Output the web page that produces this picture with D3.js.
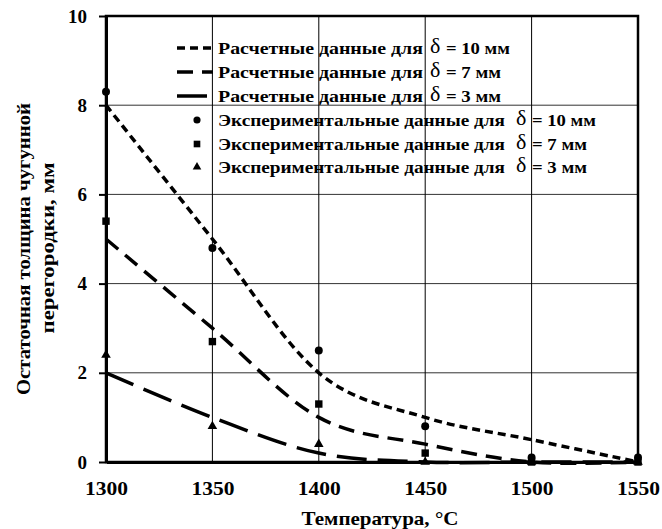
<!DOCTYPE html>
<html>
<head>
<meta charset="utf-8">
<script src="https://cdn.jsdelivr.net/npm/d3@7"></script>
<style>
  body { margin: 0; background: #fff; }
  svg text { font-family: "Liberation Serif", "Times New Roman", serif; font-weight: bold; fill: #000; }
</style>
</head>
<body>
<svg id="chart" width="662" height="529"></svg>
<script>
// data
var temps = [1300, 1350, 1400, 1450, 1500, 1550]
var calc10 = [8, 5, 2, 1, 0.5, 0]
var calc7 = [5, 3, 1, 0.4, 0, 0]
var calc3 = [2, 1, 0.2, 0, 0, 0]
var exp10 = [8.3, 4.8, 2.5, 0.8, 0.1, 0.1]
var exp7 = [5.4, 2.7, 1.3, 0.2, 0, 0]
var exp3 = [2.4, 0.8, 0.4, 0, 0, 0]
var xTicks = [1300, 1350, 1400, 1450, 1500, 1550]
var yTicks = [0, 2, 4, 6, 8, 10]
var legendLabels = [
  ['Расчетные данные для', '= 10 мм'],
  ['Расчетные данные для', '= 7 мм'],
  ['Расчетные данные для', '= 3 мм'],
  ['Экспериментальные данные для', '= 10 мм'],
  ['Экспериментальные данные для', '= 7 мм'],
  ['Экспериментальные данные для', '= 3 мм']
]

var FONT = '"Liberation Serif", "Times New Roman", serif'
var svg = d3.select('#chart')
var x = d3.scaleLinear().domain([1300, 1550]).range([106, 638])
var y = d3.scaleLinear().domain([0, 10]).range([462, 16])

// grid
svg.append('g').selectAll('line').data(yTicks.filter(function (d) { return d > 0 && d < 10 }))
  .enter().append('line')
  .attr('x1', x(1300)).attr('x2', x(1550))
  .attr('y1', function (d) { return y(d) }).attr('y2', function (d) { return y(d) })
  .attr('stroke', '#333').attr('stroke-width', 1)
svg.append('g').selectAll('line').data(xTicks.filter(function (d) { return d > 1300 && d < 1550 }))
  .enter().append('line')
  .attr('y1', y(0)).attr('y2', y(10))
  .attr('x1', function (d) { return x(d) }).attr('x2', function (d) { return x(d) })
  .attr('stroke', '#000').attr('stroke-width', 1)

// frame
svg.append('rect')
  .attr('x', x(1300)).attr('y', y(10))
  .attr('width', x(1550) - x(1300)).attr('height', y(0) - y(10))
  .attr('fill', 'none').attr('stroke', '#000').attr('stroke-width', 2.5)

// axes
var xAxis = svg.append('g').attr('transform', 'translate(0,' + y(0) + ')')
  .call(d3.axisBottom(x).tickValues(xTicks).tickFormat(d3.format('d')).tickSize(0).tickPadding(20))
var yAxis = svg.append('g').attr('transform', 'translate(' + x(1300) + ',0)')
  .call(d3.axisLeft(y).tickValues(yTicks).tickSizeInner(7).tickSizeOuter(0).tickPadding(12))
;[xAxis, yAxis].forEach(function (a) {
  a.attr('font-family', FONT)
  a.select('.domain').attr('stroke-width', 3)
  a.selectAll('.tick line').attr('stroke-width', 2)
  a.selectAll('text').attr('font-family', FONT).style('font-size', '19px').style('font-weight', 'bold')
})
xAxis.selectAll('text').attr('textLength', 43).attr('lengthAdjust', 'spacingAndGlyphs')

// titles
svg.append('text').attr('x', 380).attr('y', 525).attr('text-anchor', 'middle')
  .attr('font-family', FONT).style('font-size', '19px')
  .attr('textLength', 157).attr('lengthAdjust', 'spacingAndGlyphs')
  .text('Температура, °С')
svg.append('text').attr('transform', 'translate(30,249) rotate(-90)').attr('text-anchor', 'middle')
  .attr('font-family', FONT).style('font-size', '18px')
  .attr('textLength', 292).attr('lengthAdjust', 'spacingAndGlyphs')
  .text('Остаточная толщина чугунной')
svg.append('text').attr('transform', 'translate(54,248) rotate(-90)').attr('text-anchor', 'middle')
  .attr('font-family', FONT).style('font-size', '18px')
  .attr('textLength', 171).attr('lengthAdjust', 'spacingAndGlyphs')
  .text('перегородки, мм')

// calculated curves
var line = d3.line()
  .x(function (d) { return x(d[0]) })
  .y(function (d) { return y(d[1]) })
  .curve(d3.curveCatmullRom.alpha(0))
var calcSeries = [
  { vals: calc10, dash: '8,5' },
  { vals: calc7, dash: '16,9' },
  { vals: calc3, dash: '30,11' }
]
calcSeries.forEach(function (s) {
  svg.append('path')
    .datum(temps.map(function (t, i) { return [t, s.vals[i]] }))
    .attr('d', line)
    .attr('fill', 'none').attr('stroke', '#000').attr('stroke-width', 3.5)
    .attr('stroke-dasharray', s.dash)
})

// experimental points
var expSeries = [
  { vals: exp10, sym: d3.symbolCircle, size: 50 },
  { vals: exp7, sym: d3.symbolSquare, size: 55 },
  { vals: exp3, sym: d3.symbolTriangle, size: 40 }
]
expSeries.forEach(function (s) {
  svg.append('g').selectAll('path').data(temps)
    .enter().append('path')
    .attr('transform', function (t, i) { return 'translate(' + x(t) + ',' + y(s.vals[i]) + ')' })
    .attr('d', d3.symbol().type(s.sym).size(s.size))
    .attr('fill', '#000')
})

// legend
var rowY = [48, 72, 96, 120, 144, 167]
var prefixW = [205, 205, 205, 287, 287, 287]
var deltaX = [430, 430, 430, 516, 516, 516]
legendLabels.forEach(function (lab, i) {
  var ly = rowY[i]
  if (i < 3) {
    svg.append('line').attr('x1', 177).attr('x2', 213).attr('y1', ly).attr('y2', ly)
      .attr('stroke', '#000').attr('stroke-width', 3.5)
      .attr('stroke-dasharray', calcSeries[i].dash)
  } else {
    var s = expSeries[i - 3]
    svg.append('path').attr('transform', 'translate(197,' + ly + ')')
      .attr('d', d3.symbol().type(s.sym).size(s.size * 0.8)).attr('fill', '#000')
  }
  svg.append('text').attr('x', 218).attr('y', ly + 6)
    .attr('font-family', FONT).style('font-size', '17px')
    .attr('textLength', prefixW[i]).attr('lengthAdjust', 'spacingAndGlyphs')
    .text(lab[0])
  svg.append('text').attr('x', deltaX[i]).attr('y', ly + 5)
    .attr('font-family', FONT).style('font-size', '22px').style('font-weight', 'normal').text('δ')
  svg.append('text').attr('x', deltaX[i] + 16).attr('y', ly + 6)
    .attr('font-family', FONT).style('font-size', '17px')
    .attr('textLength', lab[1].length > 6 ? 64 : 55).attr('lengthAdjust', 'spacingAndGlyphs')
    .text(lab[1])
})
</script>
</body>
</html>
